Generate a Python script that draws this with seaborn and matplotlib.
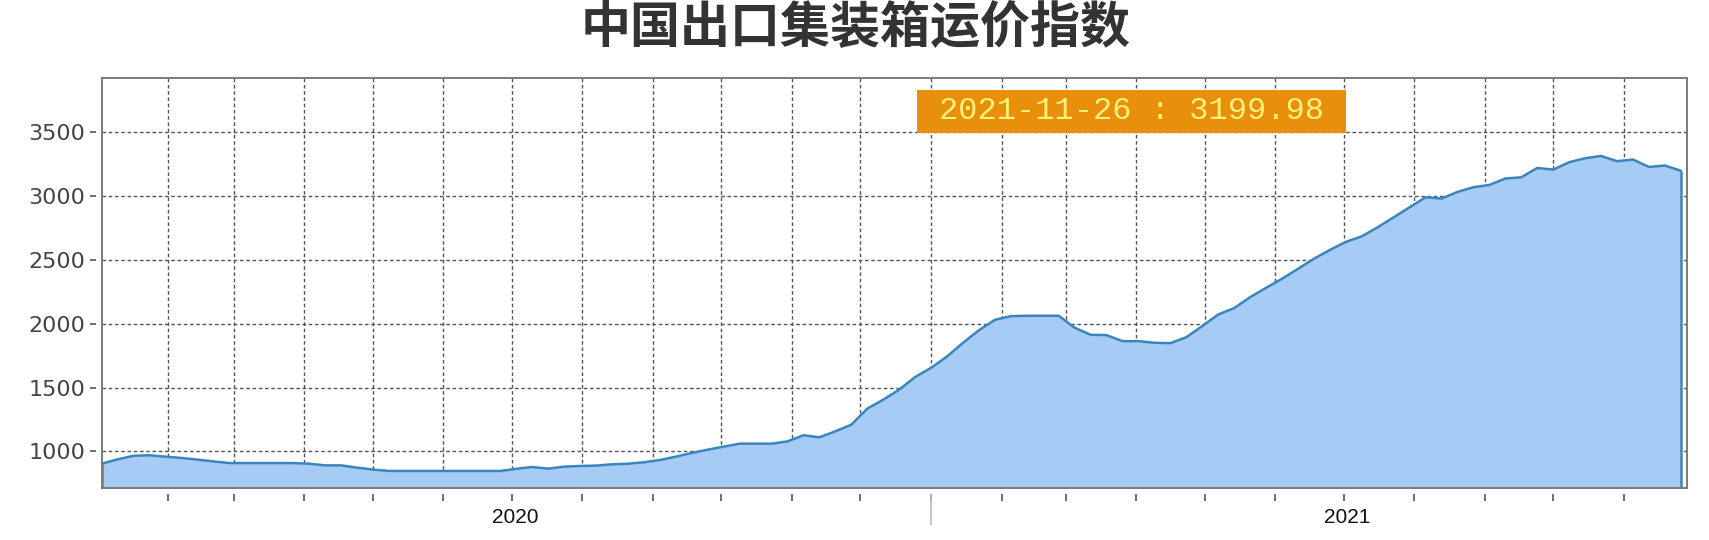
import numpy as np
import pandas as pd
import matplotlib
matplotlib.use("Agg")
import matplotlib.pyplot as plt
from matplotlib.patches import Rectangle
import seaborn as sns

# ---------------- data ----------------
title = "中国出口集装箱运价指数"
start_date = "2020-01-03"          # first weekly observation (Friday)
ccfi = [
    903, 937, 965, 969, 958, 948, 935, 921, 908, 908,
    908, 908, 908, 903, 890, 890, 872, 857, 846, 846,
    846, 846, 846, 846, 846, 846, 863, 877, 864, 880,
    885, 888, 898, 903, 914, 932, 958, 987, 1013, 1037,
    1060, 1060, 1060, 1078, 1126, 1110, 1157, 1209, 1335, 1405,
    1484, 1583, 1655, 1744, 1851, 1950, 2031, 2060, 2063, 2063,
    2063, 1969, 1914, 1911, 1864, 1864, 1851, 1848, 1895, 1982,
    2073, 2123, 2209, 2282, 2353, 2431, 2510, 2579, 2642, 2686,
    2757, 2835, 2914, 2992, 2982, 3034, 3071, 3089, 3139, 3149,
    3222, 3209, 3267, 3298, 3316, 3275, 3288, 3230, 3241, 3199.98,
]
y_ticks = [1000, 1500, 2000, 2500, 3000, 3500]
year_labels = ["2020", "2021"]
annotation = "2021-11-26 : 3199.98"

dates = pd.date_range(start_date, periods=len(ccfi), freq="7D")
df = pd.DataFrame({"date": dates, "value": ccfi})

# ---------------- style ----------------
sns.set_theme(style="white")
plt.rcParams["font.family"] = ["Noto Sans CJK SC", "DejaVu Sans"]

W, H = 1709, 540
fig = plt.figure(figsize=(W / 100, H / 100), dpi=100)
fig.patch.set_facecolor("white")
ax_l, ax_t, ax_r, ax_b = 101.7, 78.3, 1686.5, 488.3
ax = fig.add_axes([ax_l / W, 1 - ax_b / H, (ax_r - ax_l) / W, (ax_b - ax_t) / H])
ax.set_facecolor("white")

ymin, ymax = 710, 3925
xmin = pd.Timestamp("2020-01-03")
xmax = pd.Timestamp("2021-11-28 12:00")

fill_c = "#A6CBF5"
line_c = "#3A86BC"

ax.fill_between(df["date"], df["value"], ymin, facecolor=fill_c, edgecolor="none", zorder=2)
sns.lineplot(data=df, x="date", y="value", ax=ax, color=line_c, lw=1.8, zorder=3)
ax.vlines([df["date"].iloc[0], df["date"].iloc[-1]], ymin,
          [df["value"].iloc[0], df["value"].iloc[-1]], color=line_c, lw=1.8, zorder=3)

ax.set_xlim(xmin, xmax)
ax.set_ylim(ymin, ymax)
ax.set_xlabel("")
ax.set_ylabel("")

# grid: monthly vertical, 500-step horizontal
month_starts = pd.date_range("2020-02-01", "2021-11-01", freq="MS")
ax.set_xticks(month_starts)
ax.set_yticks(y_ticks)
ax.set_axisbelow(True)
ax.grid(True, which="major", color="#555555", lw=1.0, ls=(0, (2.6, 1.9)))

# year labels centred in each year
mid_years = [pd.Timestamp(f"{y}-07-02 12:00") for y in year_labels]
ax.set_xticks(mid_years, minor=True)
ax.set_xticklabels(year_labels, minor=True)
ax.set_xticklabels([], minor=False)
ax.tick_params(axis="x", which="both", length=0)
ax.tick_params(axis="x", which="minor", pad=14, labelsize=15, labelcolor="#111111")
for lab in ax.get_xticklabels(minor=True):
    lab.set_fontfamily(["Liberation Sans", "DejaVu Sans"])

ax.tick_params(axis="y", length=0, pad=12, labelsize=16, labelcolor="#444444")
for lab in ax.get_yticklabels():
    lab.set_fontfamily(["DejaVu Sans"])

# detached tick marks
xtrans = ax.get_xaxis_transform()
ax.vlines(month_starts, -0.031, -0.0139, transform=xtrans, color="#555555", lw=1.2, clip_on=False)
ax.vlines([pd.Timestamp("2021-01-01")], -0.090, -0.014, transform=xtrans, color="#BBBBBB", lw=1.2, clip_on=False)
ytrans = ax.get_yaxis_transform()
ax.hlines(y_ticks, -0.0074, -0.0036, transform=ytrans, color="#555555", lw=1.2, clip_on=False)

for s in ax.spines.values():
    s.set_visible(True)
    s.set_color("#7A7A7A")
    s.set_linewidth(1.4)
    s.set_zorder(4)

# annotation box
box = Rectangle((0.5146, 0.8666), 0.2703, 0.1058, transform=ax.transAxes,
                facecolor="#E8900C", edgecolor="none", zorder=6)
ax.add_patch(box)
ax.text(0.5146 + 0.2703 / 2, 0.8666 + 0.1058 / 2, annotation, transform=ax.transAxes,
        ha="center", va="center", fontsize=23, color="#FFF27A",
        family=["Liberation Mono", "DejaVu Sans Mono"], zorder=7)

# title
fig.text(0.5006, 1 - 28 / H, title, ha="center", va="center", fontsize=36,
         fontweight="bold", color="#333333",
         family=["Noto Sans CJK SC", "DejaVu Sans"])

fig.savefig("out.png", dpi=100, facecolor="white")
